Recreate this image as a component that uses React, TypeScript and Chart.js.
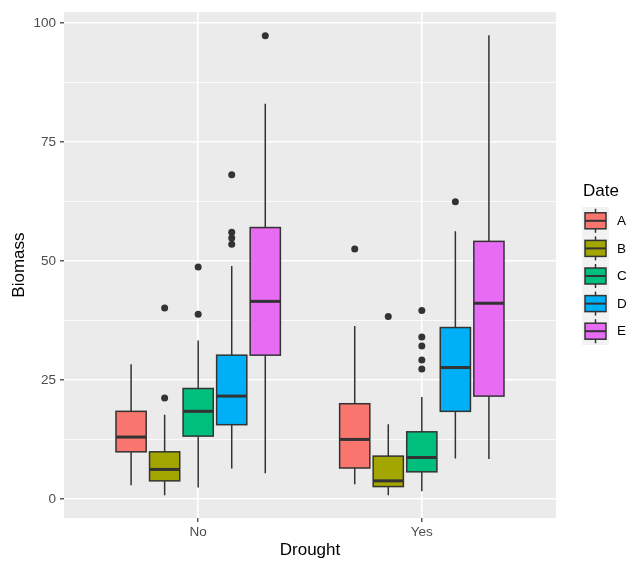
import React, { useEffect, useRef } from 'react';
import { Chart, registerables } from 'chart.js';

Chart.register(...registerables);

// ---- Data ----
const dates = ['A', 'B', 'C', 'D', 'E'];
const droughtLabels = ['No', 'Yes'];
const dateColors = ['#F8766D', '#A3A500', '#00BF7D', '#00B0F6', '#E76BF3'];

const noLower = [2.9, 0.8, 2.4, 6.4, 5.4];
const noQ1 = [9.9, 3.8, 13.2, 15.6, 30.2];
const noMedian = [13.0, 6.2, 18.4, 21.6, 41.5];
const noQ3 = [18.4, 9.9, 23.2, 30.2, 57.0];
const noUpper = [28.3, 17.7, 33.3, 48.9, 83.0];
const noOutliers = [[], [21.2, 40.1], [38.8, 48.7], [53.5, 54.8, 56.0, 68.1], [97.3]];

const yesLower = [3.1, 0.8, 1.6, 8.5, 8.4];
const yesQ1 = [6.5, 2.6, 5.7, 18.4, 21.6];
const yesMedian = [12.5, 3.8, 8.7, 27.6, 41.1];
const yesQ3 = [20.0, 9.0, 14.1, 36.0, 54.1];
const yesUpper = [36.3, 15.7, 21.4, 56.2, 97.4];
const yesOutliers = [[52.5], [38.3], [27.3, 29.2, 32.1, 34.0, 39.6], [62.4], []];

const yTicks = [0, 12.5, 25, 37.5, 50, 62.5, 75, 87.5, 100];
const xTicks = [1, 2];

const groups = [
  { lower: noLower, q1: noQ1, median: noMedian, q3: noQ3, upper: noUpper, outliers: noOutliers },
  { lower: yesLower, q1: yesQ1, median: yesMedian, q3: yesQ3, upper: yesUpper, outliers: yesOutliers },
];

const DODGE = 0.15;
const BOX_W = 0.135;
const FONT = "'Liberation Sans', Arial, Helvetica, sans-serif";
const OUTLINE = '#333333';

const boxPlugin = {
  id: 'boxes',
  beforeDraw(chart: any) {
    const { ctx, chartArea } = chart;
    ctx.save();
    ctx.fillStyle = '#EBEBEB';
    ctx.fillRect(chartArea.left, chartArea.top, chartArea.right - chartArea.left, chartArea.bottom - chartArea.top);
    ctx.restore();
  },
  beforeDatasetsDraw(chart: any) {
    const { ctx } = chart;
    const xs = chart.scales.x;
    const ys = chart.scales.y;
    ctx.save();
    groups.forEach((g, gi) => {
      dates.forEach((_, di) => {
        const cx = gi + 1 + (di - 2) * DODGE;
        const px = xs.getPixelForValue(cx);
        const x0 = xs.getPixelForValue(cx - BOX_W / 2);
        const x1 = xs.getPixelForValue(cx + BOX_W / 2);
        const yLo = ys.getPixelForValue(g.lower[di]);
        const yQ1 = ys.getPixelForValue(g.q1[di]);
        const yMed = ys.getPixelForValue(g.median[di]);
        const yQ3 = ys.getPixelForValue(g.q3[di]);
        const yHi = ys.getPixelForValue(g.upper[di]);
        ctx.strokeStyle = OUTLINE;
        ctx.lineWidth = 1.5;
        ctx.beginPath();
        ctx.moveTo(px, yHi);
        ctx.lineTo(px, yQ3);
        ctx.moveTo(px, yQ1);
        ctx.lineTo(px, yLo);
        ctx.stroke();
        ctx.fillStyle = dateColors[di];
        ctx.fillRect(x0, yQ3, x1 - x0, yQ1 - yQ3);
        ctx.strokeRect(x0, yQ3, x1 - x0, yQ1 - yQ3);
        ctx.lineWidth = 3;
        ctx.beginPath();
        ctx.moveTo(x0, yMed);
        ctx.lineTo(x1, yMed);
        ctx.stroke();
      });
    });
    ctx.restore();
  },
  afterDraw(chart: any) {
    const { ctx } = chart;
    ctx.save();
    ctx.fillStyle = '#000000';
    ctx.font = `17px ${FONT}`;
    ctx.textBaseline = 'middle';
    ctx.textAlign = 'left';
    ctx.fillText('Date', 583, 191);
    const keyTop = 207;
    const keyH = 27.6;
    ctx.fillStyle = '#F2F2F2';
    ctx.fillRect(582, keyTop, 27, keyH * dates.length);
    dates.forEach((d, i) => {
      const cy = keyTop + keyH * i + keyH / 2;
      ctx.strokeStyle = OUTLINE;
      ctx.lineWidth = 1.5;
      ctx.beginPath();
      ctx.moveTo(595.5, cy - 12);
      ctx.lineTo(595.5, cy + 12);
      ctx.stroke();
      ctx.fillStyle = dateColors[i];
      ctx.fillRect(585, cy - 8, 21, 16);
      ctx.strokeRect(585, cy - 8, 21, 16);
      ctx.lineWidth = 2;
      ctx.beginPath();
      ctx.moveTo(585, cy);
      ctx.lineTo(606, cy);
      ctx.stroke();
      ctx.fillStyle = '#000000';
      ctx.font = `13.5px ${FONT}`;
      ctx.fillText(d, 617, cy + 0.5);
    });
    ctx.restore();
  },
};

export default function App() {
  const ref = useRef<HTMLCanvasElement>(null);
  useEffect(() => {
    if (!ref.current) return;
    const datasets = dates.map((d, di) => ({
      label: d,
      data: groups.flatMap((g, gi) =>
        g.outliers[di].map((v) => ({ x: gi + 1 + (di - 2) * DODGE, y: v }))
      ),
      pointRadius: 3.5,
      pointHoverRadius: 3.5,
      backgroundColor: OUTLINE,
      borderWidth: 0,
    }));
    const isMajor = (ctx: any) => ctx.tick && Math.abs(ctx.tick.value % 25) < 1e-9;
    const chart = new Chart(ref.current, {
      type: 'scatter',
      data: { datasets },
      plugins: [boxPlugin],
      options: {
        animation: false,
        responsive: false,
        devicePixelRatio: 1,
        layout: { padding: { top: 9, right: 82, left: 0, bottom: 0 } },
        plugins: { legend: { display: false }, tooltip: { enabled: false } },
        scales: {
          x: {
            type: 'linear',
            min: 0.4,
            max: 2.6,
            afterBuildTicks: (s: any) => {
              s.ticks = xTicks.map((v) => ({ value: v }));
            },
            afterFit: (s: any) => {
              s.height = 48;
            },
            border: { display: false },
            grid: {
              color: '#FFFFFF',
              lineWidth: 1.6,
              tickLength: 4,
              tickColor: '#333333',
              tickWidth: 1.2,
            },
            ticks: {
              autoSkip: false,
              maxRotation: 0,
              padding: 2,
              color: '#4D4D4D',
              font: { family: FONT, size: 13.5 },
              callback: (v: any) => droughtLabels[Math.round(Number(v)) - 1],
            },
            title: {
              display: true,
              text: 'Drought',
              color: '#000000',
              font: { family: FONT, size: 17 },
              padding: { top: 0, bottom: 5 },
            },
          },
          y: {
            type: 'linear',
            min: -4.0,
            max: 102.25,
            afterBuildTicks: (s: any) => {
              s.ticks = yTicks.map((v) => ({ value: v }));
            },
            afterFit: (s: any) => {
              s.width = 64;
            },
            border: { display: false },
            grid: {
              color: '#FFFFFF',
              lineWidth: (ctx: any) => (isMajor(ctx) ? 1.6 : 0.8),
              tickLength: 4,
              tickColor: (ctx: any) => (isMajor(ctx) ? '#333333' : 'rgba(0,0,0,0)'),
              tickWidth: 1.2,
            },
            ticks: {
              autoSkip: false,
              padding: 4,
              color: '#4D4D4D',
              font: { family: FONT, size: 13.5 },
              callback: (v: any) => (Math.abs(Number(v) % 25) < 1e-9 ? String(v) : ''),
            },
            title: {
              display: true,
              text: 'Biomass',
              color: '#000000',
              font: { family: FONT, size: 17 },
              padding: { top: 9, bottom: 0 },
            },
          },
        },
      } as any,
    });
    return () => chart.destroy();
  }, []);
  return (
    <div style={{ position: 'fixed', left: 0, top: 0, width: 638, height: 566, background: '#FFFFFF' }}>
      <canvas ref={ref} width={638} height={566} style={{ display: 'block' }} />
    </div>
  );
}
